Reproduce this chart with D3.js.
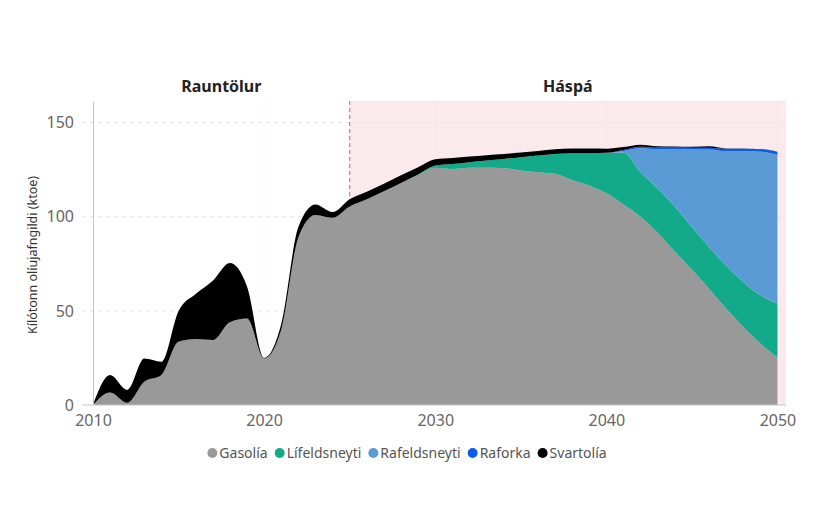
<!DOCTYPE html>
<html>
<head>
<meta charset="utf-8">
<script src="https://cdn.jsdelivr.net/npm/d3@7"></script>
<style>
  body { margin: 0; background: #fff; }
  text { font-family: "Noto Sans", "Open Sans", sans-serif; }
</style>
</head>
<body>
<svg id="chart" width="820" height="530"></svg>
<script>
const years = [2010, 2011, 2012, 2013, 2014, 2015, 2016, 2017, 2018, 2019,
  2020, 2021, 2022, 2023, 2024, 2025, 2026, 2027, 2028, 2029,
  2030, 2031, 2032, 2033, 2034, 2035, 2036, 2037, 2038, 2039,
  2040, 2041, 2042, 2043, 2044, 2045, 2046, 2047, 2048, 2049, 2050];

const gasolia = [0, 6.7, 1.2, 12.4, 16, 33.6, 35, 34.5, 44, 46,
  24.7, 40, 89, 101, 99.5, 105.5, 109.3, 113.6, 118, 122.2,
  126, 125.3, 126, 126, 125.8, 124.6, 123.7, 122.8, 119.5, 116.5,
  112.5, 106.5, 100, 91.5, 81.5, 72, 61.8, 51.2, 41.5, 32.7, 25.3];

const lifeldsneyti = [0, 0, 0, 0, 0, 0, 0, 0, 0, 0,
  0, 0, 0, 0, 0, 0, 0, 0, 0, 0.3,
  1.2, 2.7, 3, 3.9, 4.9, 7, 8.8, 10.6, 14.2, 17.3,
  21.5, 27.5, 23.7, 23.5, 24, 22.5, 22.2, 22.8, 23.9, 25.6, 28.6];

const rafeldsneyti = [0, 0, 0, 0, 0, 0, 0, 0, 0, 0,
  0, 0, 0, 0, 0, 0, 0, 0, 0, 0,
  0, 0, 0, 0, 0, 0, 0, 0, 0, 0,
  0, 1, 12.7, 21, 30.5, 41.3, 51.7, 60.8, 69.4, 76.3, 79.1];

const raforka = [0, 0, 0, 0, 0, 0, 0, 0, 0, 0,
  0, 0, 0, 0, 0, 0, 0, 0, 0, 0,
  0, 0, 0, 0, 0, 0, 0, 0, 0, 0,
  0, 0.5, 0.8, 0.8, 0.8, 0.9, 1, 1.3, 1.3, 1.3, 1.5];

const svartolia = [0, 9.2, 6.8, 12.3, 7, 16.4, 24, 31.5, 31.4, 17,
  0.3, 3, 5.5, 5.5, 3, 3.8, 4, 4, 4, 3.8,
  3.3, 3.2, 3, 2.8, 2.6, 2.5, 2.5, 2.5, 2.5, 2.4,
  2.1, 1.5, 1.1, 0.7, 0.5, 0.5, 0.8, 0.2, 0.1, 0.1, 0.1];

const seriesNames = ['Gasolía', 'Lífeldsneyti', 'Rafeldsneyti', 'Raforka', 'Svartolía'];
const seriesColors = ['#999999', '#13aa8a', '#5b9bd5', '#0b5ce6', '#000000'];
const yTicks = [0, 50, 100, 150];
const xTicks = [2010, 2020, 2030, 2040, 2050];
const splitYear = 2025;
const periodLabels = ['Rauntölur', 'Háspá'];

const width = 820;
const height = 530;
const margin = { left: 93, right: 34, top: 101, bottom: 125 };

const data = years.map((yr, i) => ({
  year: yr,
  'Gasolía': gasolia[i],
  'Lífeldsneyti': lifeldsneyti[i],
  'Rafeldsneyti': rafeldsneyti[i],
  'Raforka': raforka[i],
  'Svartolía': svartolia[i],
}));

const x = d3.scaleLinear()
  .domain([2010, 2050.5])
  .range([margin.left, width - margin.right]);
const y = d3.scaleLinear()
  .domain([0, 161.5])
  .range([height - margin.bottom, margin.top]);

const svg = d3.select('#chart');

// forecast band
svg.append('rect')
  .attr('x', x(splitYear))
  .attr('y', margin.top)
  .attr('width', x.range()[1] - x(splitYear))
  .attr('height', y(0) - margin.top)
  .attr('fill', '#fbeaec');

// grid
svg.append('g')
  .selectAll('line')
  .data(yTicks.filter((d) => d > 0))
  .join('line')
  .attr('x1', margin.left - 11)
  .attr('x2', x.range()[1])
  .attr('y1', (d) => y(d))
  .attr('y2', (d) => y(d))
  .attr('stroke', '#e3e3e3')
  .attr('stroke-dasharray', '4,4');

svg.append('g')
  .selectAll('line')
  .data(xTicks.filter((d) => d > 2010))
  .join('line')
  .attr('x1', (d) => x(d))
  .attr('x2', (d) => x(d))
  .attr('y1', margin.top)
  .attr('y2', y(0))
  .attr('stroke', '#e6e6e6')
  .attr('stroke-dasharray', '1,3');

// split line (sits under the areas)
svg.append('line')
  .attr('x1', x(splitYear))
  .attr('x2', x(splitYear))
  .attr('y1', margin.top)
  .attr('y2', y(0))
  .attr('stroke', '#e0808f')
  .attr('stroke-width', 1.3)
  .attr('stroke-dasharray', '4,3');

// stacked areas
const stack = d3.stack().keys(seriesNames);
const layers = stack(data);
const area = d3.area()
  .x((d) => x(d.data.year))
  .y0((d) => y(d[0]))
  .y1((d) => y(d[1]))
  .curve(d3.curveMonotoneX);

svg.append('g')
  .selectAll('path')
  .data(layers)
  .join('path')
  .attr('fill', (d, i) => seriesColors[i])
  .attr('d', area);

// axes
const yAxis = (g) =>
  g.attr('transform', `translate(${margin.left},0)`)
    .call(d3.axisLeft(y).tickValues(yTicks).tickSize(0).tickPadding(19))
    .call((g) => g.select('.domain').attr('stroke', '#c4c4c4'))
    .call((g) => g.selectAll('text')
      .attr('fill', '#666')
      .style('font-size', '16px')
      .style('font-family', '"Noto Sans", sans-serif'));
svg.append('g').call(yAxis);

const xAxis = (g) =>
  g.attr('transform', `translate(0,${y(0)})`)
    .call(d3.axisBottom(x).tickValues(xTicks).tickFormat(d3.format('d')).tickSize(0).tickPadding(10))
    .call((g) => g.select('.domain').attr('stroke', '#c4c4c4').attr('d', `M${margin.left - 11},0H${x.range()[1]}`))
    .call((g) => g.selectAll('text')
      .attr('fill', '#666')
      .style('font-size', '16px')
      .style('font-family', '"Noto Sans", sans-serif'));
svg.append('g').call(xAxis);

// y label
svg.append('text')
  .attr('transform', `translate(37,${(margin.top + y(0)) / 2 + 2}) rotate(-90)`)
  .attr('text-anchor', 'middle')
  .attr('fill', '#333')
  .style('font-size', '12.5px')
  .text('Kílótonn olíujafngildi (ktoe)');

// period labels
svg.append('g')
  .selectAll('text')
  .data(periodLabels)
  .join('text')
  .attr('x', (d, i) => i === 0 ? (x(2010) + x(splitYear)) / 2 : (x(splitYear) + x.range()[1]) / 2)
  .attr('y', 92)
  .attr('text-anchor', 'middle')
  .attr('fill', '#222')
  .style('font-size', '16px')
  .style('font-weight', 'bold')
  .text((d) => d);

// legend
const legend = svg.append('g');
let lx = 0;
seriesNames.forEach((name, i) => {
  const item = legend.append('g').attr('transform', `translate(${lx},0)`);
  item.append('circle').attr('cx', 5).attr('cy', 0).attr('r', 5).attr('fill', seriesColors[i]);
  const t = item.append('text')
    .attr('x', 12)
    .attr('y', 5)
    .attr('fill', '#555')
    .style('font-size', '14px')
    .text(name);
  lx += 12 + t.node().getComputedTextLength() + 7;
});
legend.attr('transform', `translate(${407 - (lx - 7) / 2},453)`);
</script>
</body>
</html>
